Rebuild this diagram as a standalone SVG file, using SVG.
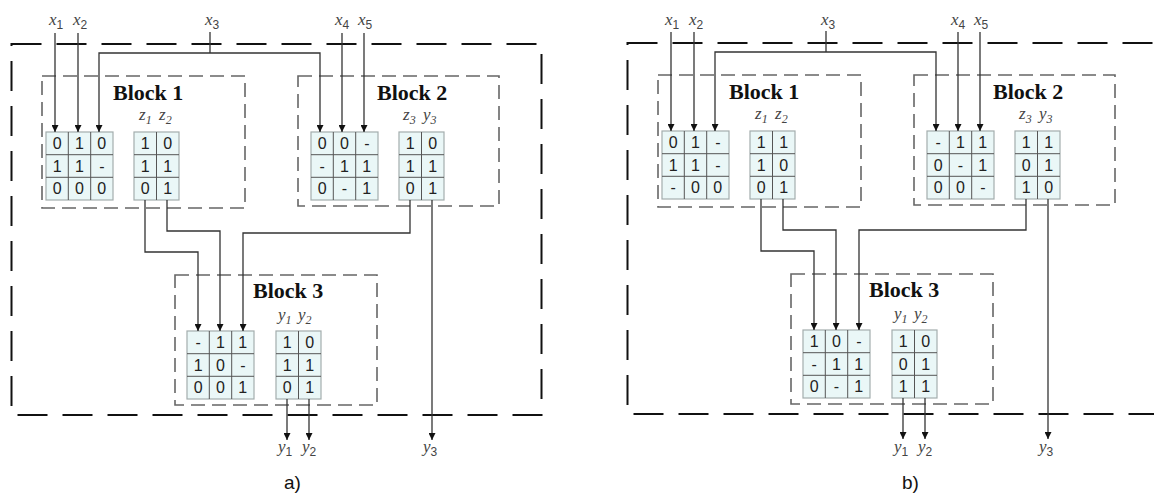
<svg xmlns="http://www.w3.org/2000/svg" width="1154" height="496" viewBox="0 0 1154 496">
<style>
.outer{fill:none;stroke:#111;stroke-width:2;stroke-dasharray:30 15}
.blk{fill:none;stroke:#666;stroke-width:1.6;stroke-dasharray:14 7}
.tb{fill:#eaf7f7;stroke:#a3adad;stroke-width:1.2}
.gr{stroke:#555;stroke-width:1}
.c{font-family:"Liberation Sans",Arial,sans-serif;font-size:16px;fill:#222;text-anchor:middle}
.title{font-family:"Liberation Serif","Times New Roman",serif;font-weight:bold;font-size:22px;fill:#111}
.var{font-family:"Liberation Serif","Times New Roman",serif;font-style:italic;font-size:17px;fill:#444}
.sub{font-family:"Liberation Sans",Arial,sans-serif;font-style:normal;font-size:12px}
.isub{font-style:italic;font-size:12px}
.cap{font-family:"Liberation Sans",Arial,sans-serif;font-size:19px;fill:#111}
.cn{fill:none;stroke:#333;stroke-width:1.3}
.ar{marker-end:url(#arr)}
</style>
<defs>
<marker id="arr" viewBox="0 0 7 7" markerWidth="7" markerHeight="7" refX="7" refY="3.5" orient="auto" markerUnits="userSpaceOnUse"><path d="M0,0 L7,3.5 L0,7 z" fill="#111"/></marker>
<g id="t3"><rect class="tb" x="0" y="0" width="67" height="68"/><path class="gr" d="M22.3,0V68M44.7,0V68M0,22.7H67M0,45.3H67"/></g>
<g id="t2"><rect class="tb" x="0" y="0" width="45" height="68"/><path class="gr" d="M22.5,0V68M0,22.7H45M0,45.3H45"/></g>
</defs>
<rect width="1154" height="496" fill="#fff"/>

<!-- ===== Diagram a) ===== -->
<g id="diagram-a">
<rect id="a-outer" class="outer" x="11.5" y="44" width="530" height="371"/>
<g id="a-block1">
<rect class="blk" x="42" y="76" width="203" height="132"/>
<text class="title" x="113" y="100">Block 1</text>
<text class="var" x="139" y="120">z<tspan class="isub" dy="4">1</tspan></text>
<text class="var" x="159" y="120">z<tspan class="isub" dy="4">2</tspan></text>
<g transform="translate(46,132)"><use href="#t3"/>
<text class="c" x="11.2" y="17">0</text><text class="c" x="33.5" y="17">1</text><text class="c" x="55.8" y="17">0</text>
<text class="c" x="11.2" y="39.7">1</text><text class="c" x="33.5" y="39.7">1</text><text class="c" x="55.8" y="39.7">-</text>
<text class="c" x="11.2" y="62.4">0</text><text class="c" x="33.5" y="62.4">0</text><text class="c" x="55.8" y="62.4">0</text></g>
<g transform="translate(134,132)"><use href="#t2"/>
<text class="c" x="11.2" y="17">1</text><text class="c" x="33.7" y="17">0</text>
<text class="c" x="11.2" y="39.7">1</text><text class="c" x="33.7" y="39.7">1</text>
<text class="c" x="11.2" y="62.4">0</text><text class="c" x="33.7" y="62.4">1</text></g>
</g>
<g id="a-block2">
<rect class="blk" x="298" y="76" width="201" height="130"/>
<text class="title" x="377" y="100">Block 2</text>
<text class="var" x="403" y="120">z<tspan class="isub" dy="4">3</tspan></text>
<text class="var" x="423" y="120">y<tspan class="isub" dy="4">3</tspan></text>
<g transform="translate(311,132)"><use href="#t3"/>
<text class="c" x="11.2" y="17">0</text><text class="c" x="33.5" y="17">0</text><text class="c" x="55.8" y="17">-</text>
<text class="c" x="11.2" y="39.7">-</text><text class="c" x="33.5" y="39.7">1</text><text class="c" x="55.8" y="39.7">1</text>
<text class="c" x="11.2" y="62.4">0</text><text class="c" x="33.5" y="62.4">-</text><text class="c" x="55.8" y="62.4">1</text></g>
<g transform="translate(399,132)"><use href="#t2"/>
<text class="c" x="11.2" y="17">1</text><text class="c" x="33.7" y="17">0</text>
<text class="c" x="11.2" y="39.7">1</text><text class="c" x="33.7" y="39.7">1</text>
<text class="c" x="11.2" y="62.4">0</text><text class="c" x="33.7" y="62.4">1</text></g>
</g>
<g id="a-block3">
<rect class="blk" x="175" y="275" width="202" height="130"/>
<text class="title" x="253" y="298">Block 3</text>
<text class="var" x="278" y="320">y<tspan class="isub" dy="4">1</tspan></text>
<text class="var" x="298" y="320">y<tspan class="isub" dy="4">2</tspan></text>
<g transform="translate(187,331)"><use href="#t3"/>
<text class="c" x="11.2" y="17">-</text><text class="c" x="33.5" y="17">1</text><text class="c" x="55.8" y="17">1</text>
<text class="c" x="11.2" y="39.7">1</text><text class="c" x="33.5" y="39.7">0</text><text class="c" x="55.8" y="39.7">-</text>
<text class="c" x="11.2" y="62.4">0</text><text class="c" x="33.5" y="62.4">0</text><text class="c" x="55.8" y="62.4">1</text></g>
<g transform="translate(276,331)"><use href="#t2"/>
<text class="c" x="11.2" y="17">1</text><text class="c" x="33.7" y="17">0</text>
<text class="c" x="11.2" y="39.7">1</text><text class="c" x="33.7" y="39.7">1</text>
<text class="c" x="11.2" y="62.4">0</text><text class="c" x="33.7" y="62.4">1</text></g>
</g>
<g id="a-labels">
<text class="var" x="49" y="25">x<tspan class="sub" dy="4">1</tspan></text>
<text class="var" x="73" y="25">x<tspan class="sub" dy="4">2</tspan></text>
<text class="var" x="205" y="25">x<tspan class="sub" dy="4">3</tspan></text>
<text class="var" x="335" y="25">x<tspan class="sub" dy="4">4</tspan></text>
<text class="var" x="358" y="25">x<tspan class="sub" dy="4">5</tspan></text>
<text class="var" x="278" y="452">y<tspan class="sub" dy="4">1</tspan></text>
<text class="var" x="302" y="452">y<tspan class="sub" dy="4">2</tspan></text>
<text class="var" x="423" y="452">y<tspan class="sub" dy="4">3</tspan></text>
<text class="cap" x="284" y="489">a)</text>
</g>
<g id="a-connectors">
<path class="cn ar" d="M55,33V132"/>
<path class="cn ar" d="M78,33V132"/>
<path class="cn" d="M210,32V53"/>
<path class="cn ar" d="M210,53H99V132"/>
<path class="cn ar" d="M210,53H320V132"/>
<path class="cn ar" d="M342,33V132"/>
<path class="cn ar" d="M364,33V132"/>
<path class="cn ar" d="M145,200V252H198V331"/>
<path class="cn ar" d="M167,200V231H220V331"/>
<path class="cn ar" d="M410,200V233H243V331"/>
<path class="cn ar" d="M432,200V440"/>
<path class="cn ar" d="M287,399V440"/>
<path class="cn ar" d="M309,399V440"/>
</g>
</g>

<!-- ===== Diagram b) ===== -->
<g id="diagram-b">
<g transform="translate(616,-1)">
<rect id="b-outer" class="outer" x="11.5" y="44" width="530" height="371"/>
<g id="b-block1">
<rect class="blk" x="42" y="76" width="203" height="132"/>
<text class="title" x="113" y="100">Block 1</text>
<text class="var" x="139" y="120">z<tspan class="isub" dy="4">1</tspan></text>
<text class="var" x="159" y="120">z<tspan class="isub" dy="4">2</tspan></text>
<g transform="translate(46,132)"><use href="#t3"/>
<text class="c" x="11.2" y="17">0</text><text class="c" x="33.5" y="17">1</text><text class="c" x="55.8" y="17">-</text>
<text class="c" x="11.2" y="39.7">1</text><text class="c" x="33.5" y="39.7">1</text><text class="c" x="55.8" y="39.7">-</text>
<text class="c" x="11.2" y="62.4">-</text><text class="c" x="33.5" y="62.4">0</text><text class="c" x="55.8" y="62.4">0</text></g>
<g transform="translate(134,132)"><use href="#t2"/>
<text class="c" x="11.2" y="17">1</text><text class="c" x="33.7" y="17">1</text>
<text class="c" x="11.2" y="39.7">1</text><text class="c" x="33.7" y="39.7">0</text>
<text class="c" x="11.2" y="62.4">0</text><text class="c" x="33.7" y="62.4">1</text></g>
</g>
<g id="b-block2">
<rect class="blk" x="298" y="76" width="201" height="130"/>
<text class="title" x="377" y="100">Block 2</text>
<text class="var" x="403" y="120">z<tspan class="isub" dy="4">3</tspan></text>
<text class="var" x="423" y="120">y<tspan class="isub" dy="4">3</tspan></text>
<g transform="translate(311,132)"><use href="#t3"/>
<text class="c" x="11.2" y="17">-</text><text class="c" x="33.5" y="17">1</text><text class="c" x="55.8" y="17">1</text>
<text class="c" x="11.2" y="39.7">0</text><text class="c" x="33.5" y="39.7">-</text><text class="c" x="55.8" y="39.7">1</text>
<text class="c" x="11.2" y="62.4">0</text><text class="c" x="33.5" y="62.4">0</text><text class="c" x="55.8" y="62.4">-</text></g>
<g transform="translate(399,132)"><use href="#t2"/>
<text class="c" x="11.2" y="17">1</text><text class="c" x="33.7" y="17">1</text>
<text class="c" x="11.2" y="39.7">0</text><text class="c" x="33.7" y="39.7">1</text>
<text class="c" x="11.2" y="62.4">1</text><text class="c" x="33.7" y="62.4">0</text></g>
</g>
<g id="b-block3">
<rect class="blk" x="175" y="275" width="202" height="130"/>
<text class="title" x="253" y="298">Block 3</text>
<text class="var" x="278" y="320">y<tspan class="isub" dy="4">1</tspan></text>
<text class="var" x="298" y="320">y<tspan class="isub" dy="4">2</tspan></text>
<g transform="translate(187,331)"><use href="#t3"/>
<text class="c" x="11.2" y="17">1</text><text class="c" x="33.5" y="17">0</text><text class="c" x="55.8" y="17">-</text>
<text class="c" x="11.2" y="39.7">-</text><text class="c" x="33.5" y="39.7">1</text><text class="c" x="55.8" y="39.7">1</text>
<text class="c" x="11.2" y="62.4">0</text><text class="c" x="33.5" y="62.4">-</text><text class="c" x="55.8" y="62.4">1</text></g>
<g transform="translate(276,331)"><use href="#t2"/>
<text class="c" x="11.2" y="17">1</text><text class="c" x="33.7" y="17">0</text>
<text class="c" x="11.2" y="39.7">0</text><text class="c" x="33.7" y="39.7">1</text>
<text class="c" x="11.2" y="62.4">1</text><text class="c" x="33.7" y="62.4">1</text></g>
</g>
<g id="b-labels">
<text class="var" x="49" y="26">x<tspan class="sub" dy="4">1</tspan></text>
<text class="var" x="73" y="26">x<tspan class="sub" dy="4">2</tspan></text>
<text class="var" x="205" y="26">x<tspan class="sub" dy="4">3</tspan></text>
<text class="var" x="335" y="26">x<tspan class="sub" dy="4">4</tspan></text>
<text class="var" x="358" y="26">x<tspan class="sub" dy="4">5</tspan></text>
<text class="var" x="278" y="453">y<tspan class="sub" dy="4">1</tspan></text>
<text class="var" x="302" y="453">y<tspan class="sub" dy="4">2</tspan></text>
<text class="var" x="423" y="453">y<tspan class="sub" dy="4">3</tspan></text>
</g>
<g id="b-connectors">
<path class="cn ar" d="M55,33V132"/>
<path class="cn ar" d="M78,33V132"/>
<path class="cn" d="M210,32V53"/>
<path class="cn ar" d="M210,53H99V132"/>
<path class="cn ar" d="M210,53H320V132"/>
<path class="cn ar" d="M342,33V132"/>
<path class="cn ar" d="M364,33V132"/>
<path class="cn ar" d="M145,200V252H198V331"/>
<path class="cn ar" d="M167,200V231H220V331"/>
<path class="cn ar" d="M410,200V231H243V331"/>
<path class="cn ar" d="M432,200V440"/>
<path class="cn ar" d="M287,399V440"/>
<path class="cn ar" d="M309,399V440"/>
</g>
</g>
<text class="cap" x="902" y="489">b)</text>
</g>
</svg>
